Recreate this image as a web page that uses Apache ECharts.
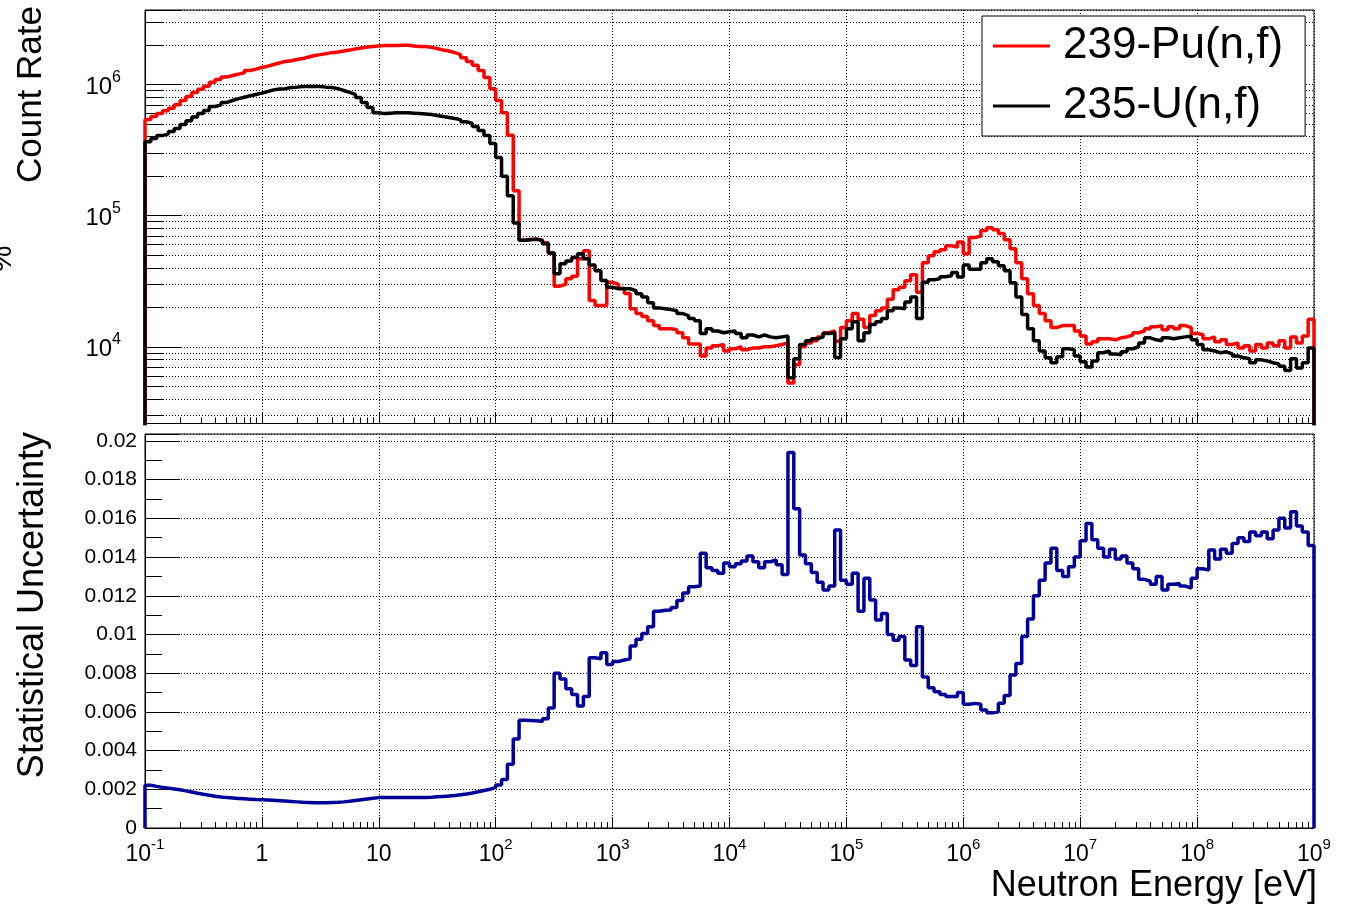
<!DOCTYPE html>
<html>
<head>
<meta charset="utf-8">
<script src="https://cdn.jsdelivr.net/npm/echarts@6/dist/echarts.min.js"></script>
<style>
html, body { margin: 0; padding: 0; background: #ffffff; }
#chart { width: 1351px; height: 905px; }
</style>
</head>
<body>
<div id="chart"></div>
<script>
// Histogram binning: 20 logarithmic bins per decade from 0.1 eV to 1 GeV
const LOG_E_MIN = -1;
const BINS_PER_DECADE = 20;

// 239-Pu(n,f) count rate per bin
const pu239Rate = [
  5.4e5, 5.7e5, 6.0e5, 6.3e5, 6.6e5, 7.0e5, 7.55e5, 8.1e5, 8.7e5, 9.2e5,
  9.7e5, 1.04e6, 1.09e6, 1.14e6, 1.17e6, 1.2e6, 1.23e6, 1.28e6, 1.31e6, 1.35e6,
  1.38e6, 1.42e6, 1.46e6, 1.5e6, 1.52e6, 1.55e6, 1.58e6, 1.62e6, 1.665e6, 1.69e6,
  1.72e6, 1.75e6, 1.77e6, 1.8e6, 1.83e6, 1.87e6, 1.9e6, 1.93e6, 1.95e6, 1.97e6,
  1.985e6, 1.985e6, 1.985e6, 1.99e6, 1.99e6, 1.97e6, 1.95e6, 1.95e6, 1.92e6, 1.88e6,
  1.83e6, 1.8e6, 1.75e6, 1.69e6, 1.6e6, 1.5e6, 1.4e6, 1.28e6, 1.13e6, 9.3e5,
  7.55e5, 6.1e5, 4.1e5, 1.55e5, 6.5e4, 6.6e4, 6.6e4, 6.5e4, 6.2e4, 5.2e4,
  2.9e4, 3.0e4, 3.3e4, 3.45e4, 4.7e4, 5.4e4, 2.25e4, 2.06e4, 2.06e4, 3.1e4,
  3.0e4, 2.8e4, 2.55e4, 1.95e4, 1.79e4, 1.7e4, 1.58e4, 1.45e4, 1.37e4, 1.37e4,
  1.35e4, 1.28e4, 1.17e4, 1.05e4, 1.05e4, 8.5e3, 9.8e3, 1.02e4, 1.04e4, 9.3e3,
  9.66e3, 1.0e4, 9.5e3, 9.8e3, 9.8e3, 1.0e4, 1.0e4, 1.02e4, 1.04e4, 1.07e4,
  5.3e3, 7.3e3, 1.0e4, 1.07e4, 1.11e4, 1.19e4, 1.28e4, 1.32e4, 1.1e4, 1.4e4,
  1.58e4, 1.79e4, 1.62e4, 1.4e4, 1.73e4, 1.88e4, 1.98e4, 2.3e4, 2.72e4, 2.85e4,
  3.19e4, 3.55e4, 2.6e4, 4.38e4, 4.95e4, 5.3e4, 5.5e4, 5.9e4, 5.75e4, 6.3e4,
  5.13e4, 6.8e4, 7.0e4, 7.7e4, 8.1e4, 7.8e4, 7.3e4, 6.55e4, 5.6e4, 4.38e4,
  3.3e4, 2.54e4, 2.06e4, 1.79e4, 1.58e4, 1.4e4, 1.45e4, 1.45e4, 1.45e4, 1.32e4,
  1.21e4, 1.05e4, 1.09e4, 1.15e4, 1.15e4, 1.13e4, 1.17e4, 1.19e4, 1.23e4, 1.28e4,
  1.32e4, 1.37e4, 1.42e4, 1.45e4, 1.35e4, 1.42e4, 1.37e4, 1.45e4, 1.4e4, 1.26e4,
  1.24e4, 1.15e4, 1.19e4, 1.09e4, 1.13e4, 1.04e4, 1.07e4, 9.8e3, 1.02e4, 9.3e3,
  1.04e4, 9.8e3, 1.07e4, 1.02e4, 1.11e4, 9.8e3, 1.19e4, 1.07e4, 1.21e4, 1.62e4
];

// 235-U(n,f) count rate per bin
const u235Rate = [
  3.66e5, 3.87e5, 4.08e5, 4.2e5, 4.38e5, 4.62e5, 4.95e5, 5.3e5, 5.65e5, 6.0e5,
  6.33e5, 6.8e5, 7.0e5, 7.3e5, 7.55e5, 7.8e5, 8.0e5, 8.2e5, 8.4e5, 8.6e5,
  8.85e5, 9.1e5, 9.25e5, 9.3e5, 9.5e5, 9.55e5, 9.65e5, 9.65e5, 9.65e5, 9.65e5,
  9.55e5, 9.5e5, 9.3e5, 9.0e5, 8.7e5, 8.4e5, 7.95e5, 7.3e5, 6.67e5, 6.1e5,
  6.0e5, 6.05e5, 6.1e5, 6.1e5, 6.1e5, 6.05e5, 6.0e5, 5.95e5, 5.9e5, 5.8e5,
  5.7e5, 5.6e5, 5.5e5, 5.4e5, 5.2e5, 5.05e5, 4.78e5, 4.46e5, 4.08e5, 3.55e5,
  2.77e5, 2.0e5, 1.42e5, 8.8e4, 6.5e4, 6.55e4, 6.6e4, 6.5e4, 6.1e4, 5.2e4,
  3.6e4, 4.3e4, 4.5e4, 4.8e4, 5.13e4, 4.7e4, 4.2e4, 3.8e4, 3.2e4, 2.85e4,
  2.77e4, 2.77e4, 2.77e4, 2.68e4, 2.54e4, 2.4e4, 2.17e4, 1.98e4, 1.95e4, 1.92e4,
  1.88e4, 1.79e4, 1.73e4, 1.64e4, 1.58e4, 1.26e4, 1.37e4, 1.32e4, 1.28e4, 1.3e4,
  1.32e4, 1.26e4, 1.17e4, 1.23e4, 1.19e4, 1.23e4, 1.19e4, 1.17e4, 1.19e4, 1.21e4,
  5.8e3, 8.1e3, 1.04e4, 1.11e4, 1.15e4, 1.19e4, 1.26e4, 1.28e4, 8.3e3, 1.15e4,
  1.37e4, 1.55e4, 1.11e4, 1.28e4, 1.48e4, 1.55e4, 1.64e4, 1.88e4, 1.98e4, 1.95e4,
  2.2e4, 2.4e4, 1.64e4, 3.1e4, 3.25e4, 3.3e4, 3.42e4, 3.48e4, 3.68e4, 3.4e4,
  4.2e4, 3.9e4, 3.9e4, 4.38e4, 4.7e4, 4.45e4, 4.15e4, 3.8e4, 3.08e4, 2.4e4,
  1.76e4, 1.37e4, 1.11e4, 9.3e3, 8.24e3, 7.55e3, 8.4e3, 9.66e3, 9.5e3, 8.5e3,
  7.7e3, 7.0e3, 7.8e3, 9.0e3, 9.3e3, 8.8e3, 8.7e3, 9.15e3, 9.66e3, 1.0e4,
  1.07e4, 1.17e4, 1.13e4, 1.11e4, 1.17e4, 1.15e4, 1.17e4, 1.19e4, 1.21e4, 1.13e4,
  1.04e4, 9.5e3, 9.3e3, 9.0e3, 9.15e3, 8.84e3, 8.5e3, 8.24e3, 8.1e3, 7.55e3,
  7.95e3, 7.8e3, 7.55e3, 7.4e3, 7.1e3, 6.6e3, 8.1e3, 6.9e3, 7.55e3, 9.8e3
];

// Relative statistical uncertainty per bin
const statUncertainty = [
  0.00221, 0.00215, 0.00210, 0.00206, 0.00202, 0.00198, 0.00192, 0.00186, 0.00180, 0.00174,
  0.00169, 0.00164, 0.00160, 0.00157, 0.00155, 0.00153, 0.00151, 0.00149, 0.00147, 0.00146,
  0.00145, 0.00143, 0.00141, 0.00139, 0.00137, 0.00135, 0.00133, 0.00132, 0.00131, 0.00131,
  0.00131, 0.00132, 0.00133, 0.00135, 0.00138, 0.00142, 0.00146, 0.00150, 0.00154, 0.00157,
  0.00157, 0.00157, 0.00157, 0.00157, 0.00157, 0.00157, 0.00157, 0.00158, 0.00159, 0.00161,
  0.00163, 0.00165, 0.00168, 0.00172, 0.00176, 0.00181, 0.00187, 0.00194, 0.00200, 0.00210,
  0.00222, 0.00250, 0.00330, 0.00460, 0.00557, 0.00556, 0.00554, 0.00550, 0.00565, 0.00620,
  0.00800, 0.00770, 0.00720, 0.00690, 0.00630, 0.00680, 0.00880, 0.00875, 0.00905, 0.00845,
  0.00860, 0.00868, 0.00875, 0.00940, 0.00975, 0.01005, 0.01040, 0.01120, 0.01125, 0.01127,
  0.01140, 0.01175, 0.01215, 0.01247, 0.01250, 0.01420, 0.01345, 0.01330, 0.01316, 0.01370,
  0.01350, 0.01365, 0.01380, 0.01405, 0.01376, 0.01345, 0.01376, 0.01385, 0.01360, 0.01310,
  0.01940, 0.01650, 0.01411, 0.01365, 0.01320, 0.01270, 0.01230, 0.01250, 0.01540, 0.01280,
  0.01260, 0.01316, 0.01120, 0.01290, 0.01178, 0.01075, 0.01109, 0.01000, 0.00970, 0.00990,
  0.00868, 0.00840, 0.01040, 0.00780, 0.00725, 0.00704, 0.00690, 0.00679, 0.00680, 0.00700,
  0.00640, 0.00644, 0.00640, 0.00610, 0.00595, 0.00600, 0.00645, 0.00685, 0.00790, 0.00850,
  0.00990, 0.01080, 0.01200, 0.01280, 0.01370, 0.01445, 0.01330, 0.01300, 0.01350, 0.01400,
  0.01485, 0.01574, 0.01490, 0.01445, 0.01400, 0.01440, 0.01390, 0.01405, 0.01370, 0.01340,
  0.01285, 0.01275, 0.01260, 0.01300, 0.01230, 0.01260, 0.01264, 0.01250, 0.01240, 0.01290,
  0.01340, 0.01333, 0.01437, 0.01390, 0.01440, 0.01420, 0.01470, 0.01500, 0.01480, 0.01530,
  0.01510, 0.01530, 0.01495, 0.01540, 0.01600, 0.01550, 0.01634, 0.01560, 0.01530, 0.01460
];

const seriesNames = ['239-Pu(n,f)', '235-U(n,f)'];
const xTitle = 'Neutron Energy [eV]';
const yTitleTop = 'Count Rate';
const yTitleBottom = 'Statistical Uncertainty';

// Axis ranges
const E_MIN = 0.1, E_MAX = 1e9;
const RATE_MIN = 2600, RATE_MAX = 3.7e6;
const UNC_MIN = 0, UNC_MAX = 0.02036, UNC_STEP = 0.002;

const FONT = '"Liberation Sans", Arial, Helvetica, sans-serif';

function binEdge(i) {
  return Math.pow(10, LOG_E_MIN + i / BINS_PER_DECADE);
}

// Histogram outline: rises from the frame floor at the first edge and drops back at the last
function histOutline(values, floor) {
  const pts = [[binEdge(0), floor]];
  for (let i = 0; i < values.length; i++) pts.push([binEdge(i), values[i]]);
  pts.push([binEdge(values.length), values[values.length - 1]]);
  pts.push([binEdge(values.length), floor]);
  return pts;
}

function powerLabel(v) {
  const n = Math.round(Math.log10(v));
  if (n === 0) return '{b|1}';
  if (n === 1) return '{b|10}';
  return '{b|10}{s|' + n + '}';
}

const dotted = { color: '#000', width: 1, type: [1, 2] };

function richLabels(base, sup) {
  return {
    b: { fontSize: base, fontFamily: FONT, color: '#000', lineHeight: base + 6, verticalAlign: 'bottom' },
    s: { fontSize: sup, fontFamily: FONT, color: '#000', lineHeight: sup + 2, verticalAlign: 'top' }
  };
}

const LINE_W = 3.5;

const chart = echarts.init(document.getElementById('chart'), null, { renderer: 'canvas' });

chart.setOption({
  animation: false,
  backgroundColor: '#ffffff',
  grid: [
    { left: 145, top: 10, width: 1169, height: 413.5, show: true, borderColor: '#000', borderWidth: 1, backgroundColor: 'transparent', outerBoundsMode: 'none' },
    { left: 145, top: 434, width: 1169, height: 394, show: true, borderColor: '#000', borderWidth: 1, backgroundColor: 'transparent', outerBoundsMode: 'none' }
  ],
  legend: {
    data: seriesNames,
    orient: 'vertical',
    left: 982,
    top: 16,
    backgroundColor: '#ffffff',
    borderColor: '#000',
    borderWidth: 1,
    borderRadius: 0,
    padding: [5, 22, 5, 11],
    itemGap: 10,
    itemWidth: 57,
    itemHeight: 3,
    icon: 'rect',
    selectedMode: false,
    textStyle: { fontSize: 44, fontFamily: FONT, color: '#000', lineHeight: 50, padding: [0, 0, 0, 8] }
  },
  xAxis: [
    {
      type: 'log', gridIndex: 0, min: E_MIN, max: E_MAX, logBase: 10, interval: 1, splitNumber: 10,
      axisLine: { show: true, onZero: false, lineStyle: { color: '#000', width: 1 } },
      axisTick: { show: true, inside: true, length: 11, lineStyle: { color: '#000' } },
      minorTick: { show: true, splitNumber: 9, length: 6, lineStyle: { color: '#000' } },
      axisLabel: { show: false },
      splitLine: { show: true, lineStyle: dotted }
    },
    {
      type: 'log', gridIndex: 1, min: E_MIN, max: E_MAX, logBase: 10, interval: 1, splitNumber: 10,
      axisLine: { show: true, onZero: false, lineStyle: { color: '#000', width: 1 } },
      axisTick: { show: true, inside: true, length: 11, lineStyle: { color: '#000' } },
      minorTick: { show: true, splitNumber: 9, length: 6, lineStyle: { color: '#000' } },
      axisLabel: { show: true, margin: 9, formatter: powerLabel, rich: richLabels(23, 15) },
      splitLine: { show: true, lineStyle: dotted }
    }
  ],
  yAxis: [
    {
      type: 'log', gridIndex: 0, min: RATE_MIN, max: RATE_MAX, logBase: 10,
      axisLine: { show: true, onZero: false, lineStyle: { color: '#000', width: 1 } },
      axisTick: { show: true, inside: true, length: 37, lineStyle: { color: '#000' } },
      minorTick: { show: true, splitNumber: 9, length: 18, lineStyle: { color: '#000' } },
      axisLabel: { show: true, margin: 24, showMinLabel: false, showMaxLabel: false, formatter: powerLabel, rich: richLabels(24, 16) },
      splitLine: { show: true, lineStyle: dotted },
      minorSplitLine: { show: true, lineStyle: dotted }
    },
    {
      type: 'value', gridIndex: 1, min: UNC_MIN, max: UNC_MAX, interval: UNC_STEP,
      axisLine: { show: true, onZero: false, lineStyle: { color: '#000', width: 1 } },
      axisTick: { show: true, inside: true, length: 35, lineStyle: { color: '#000' } },
      minorTick: { show: true, splitNumber: 2, length: 17, lineStyle: { color: '#000' } },
      axisLabel: {
        show: true, margin: 8, showMaxLabel: false, fontSize: 21, fontFamily: FONT, color: '#000',
        formatter: function (v) { return String(parseFloat(v.toFixed(3))); }
      },
      splitLine: { show: true, lineStyle: dotted }
    }
  ],
  series: [
    {
      name: seriesNames[0], type: 'line', xAxisIndex: 0, yAxisIndex: 0, step: 'end',
      showSymbol: false, symbol: 'none', clip: true,
      lineStyle: { color: '#ff0000', width: LINE_W }, itemStyle: { color: '#ff0000' },
      data: histOutline(pu239Rate, 1)
    },
    {
      name: seriesNames[1], type: 'line', xAxisIndex: 0, yAxisIndex: 0, step: 'end',
      showSymbol: false, symbol: 'none', clip: true,
      lineStyle: { color: '#000000', width: LINE_W }, itemStyle: { color: '#000000' },
      data: histOutline(u235Rate, 1)
    },
    {
      name: 'uncertainty', type: 'line', xAxisIndex: 1, yAxisIndex: 1, step: 'end',
      showSymbol: false, symbol: 'none', clip: true,
      lineStyle: { color: '#000099', width: LINE_W }, itemStyle: { color: '#000099' },
      data: histOutline(statUncertainty, 0)
    }
  ],
  graphic: [
    {
      type: 'text', x: 31, y: 6, rotation: Math.PI / 2,
      style: { text: yTitleTop, font: '35px ' + FONT, fill: '#000', textAlign: 'right', textVerticalAlign: 'middle' }
    },
    {
      type: 'text', x: 33, y: 432, rotation: Math.PI / 2,
      style: { text: yTitleBottom, font: '36px ' + FONT, fill: '#000', textAlign: 'right', textVerticalAlign: 'middle' }
    },
    {
      type: 'text', x: 1317, y: 886,
      style: { text: xTitle, font: '36px ' + FONT, fill: '#000', textAlign: 'right', textVerticalAlign: 'middle' }
    },
    {
      type: 'text', x: 3, y: 259, rotation: Math.PI / 2,
      style: { text: '%', font: '30px ' + FONT, fill: '#000', textAlign: 'center', textVerticalAlign: 'middle' }
    }
  ]
});
</script>
</body>
</html>
